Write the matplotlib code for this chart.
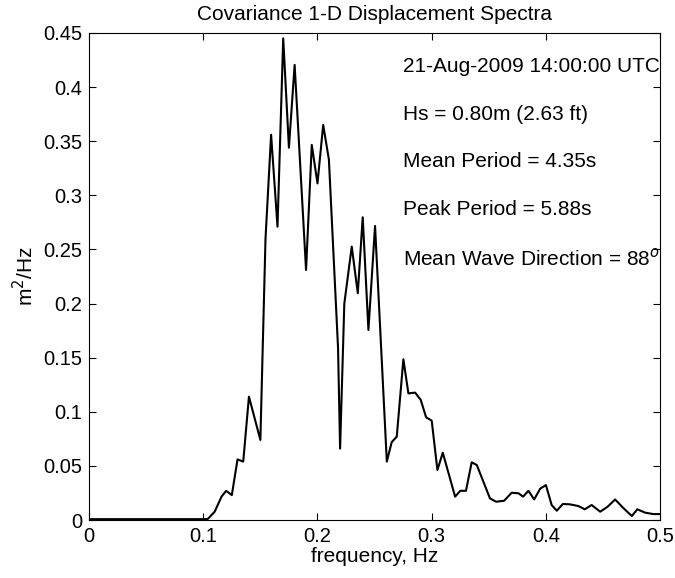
import numpy as np
import matplotlib
matplotlib.use('Agg')
import matplotlib.pyplot as plt

plt.rcParams['font.family'] = ['Liberation Sans', 'DejaVu Sans']

# spectrum
freq = [0.0, 0.02, 0.04, 0.06, 0.08, 0.1, 0.104, 0.110, 0.116, 0.120, 0.125, 0.130,
        0.135, 0.140, 0.150, 0.1545, 0.1594, 0.165, 0.170, 0.175, 0.180, 0.190,
        0.195, 0.200, 0.205, 0.210, 0.218, 0.2198, 0.2235, 0.230, 0.2353, 0.2396,
        0.2446, 0.2504, 0.2607, 0.265, 0.2694, 0.2752, 0.2796, 0.2855, 0.2904,
        0.2951, 0.300, 0.305, 0.3097, 0.3205, 0.325, 0.330, 0.335, 0.3395, 0.351,
        0.3564, 0.3634, 0.370, 0.376, 0.380, 0.3847, 0.3897, 0.395, 0.400, 0.405,
        0.4095, 0.4148, 0.421, 0.4285, 0.434, 0.440, 0.4475, 0.454, 0.4606, 0.468,
        0.4752, 0.480, 0.4869, 0.494, 0.500]
energy = [0.0008, 0.0008, 0.0008, 0.0008, 0.0008, 0.0008, 0.001, 0.0077, 0.0216, 0.027,
          0.023, 0.056, 0.054, 0.114, 0.074, 0.26, 0.356, 0.271, 0.445, 0.344, 0.4205,
          0.231, 0.3466, 0.311, 0.365, 0.333, 0.159, 0.066, 0.20, 0.2526, 0.2095,
          0.2797, 0.1756, 0.2717, 0.054, 0.072, 0.077, 0.1485, 0.117, 0.1177, 0.111,
          0.0949, 0.0918, 0.0462, 0.0622, 0.0216, 0.027, 0.027, 0.0533, 0.0508, 0.020,
          0.0169, 0.0178, 0.0252, 0.0247, 0.0216, 0.027, 0.019, 0.029, 0.0323, 0.0139,
          0.0086, 0.0148, 0.0145, 0.0129, 0.0099, 0.0139, 0.0077, 0.0123, 0.019, 0.0108,
          0.0037, 0.0099, 0.0068, 0.0055, 0.0055]

info = ['21-Aug-2009 14:00:00 UTC',
        'Hs = 0.80m (2.63 ft)',
        'Mean Period = 4.35s',
        'Peak Period = 5.88s',
        'Mean Wave Direction = 88$^{o}$']
info_y = [0.4187, 0.3743, 0.331, 0.2865, 0.242]

fig = plt.figure(figsize=(6.75, 5.78), dpi=100)
ax = fig.add_axes([0.1319, 0.1003, 0.978 - 0.1319, 0.943 - 0.1003])
ax.plot(freq, energy, color='black', lw=1.5)

ax.set_xlim(0, 0.5)
ax.set_ylim(0, 0.45)
ax.set_xticks(np.arange(0, 0.51, 0.1))
ax.set_yticks(np.arange(0, 0.451, 0.05))
ax.set_xticklabels(['0', '0.1', '0.2', '0.3', '0.4', '0.5'])
ax.set_yticklabels(['0', '0.05', '0.1', '0.15', '0.2', '0.25', '0.3', '0.35', '0.4', '0.45'])
ax.tick_params(direction='in', top=True, right=True, length=5, labelsize=14.5, pad=5)
for s in ax.spines.values():
    s.set_linewidth(0.8)

ax.set_title('Covariance 1-D Displacement Spectra', fontsize=15, pad=9)
ax.set_xlabel('frequency, Hz', fontsize=15, labelpad=1)
ax.set_ylabel('m$^2$/Hz', fontsize=15, labelpad=4)

for txt, yy in zip(info, info_y):
    ax.text(0.275, yy, txt, fontsize=15, va='center', ha='left')

fig.savefig('out.png', dpi=100)
